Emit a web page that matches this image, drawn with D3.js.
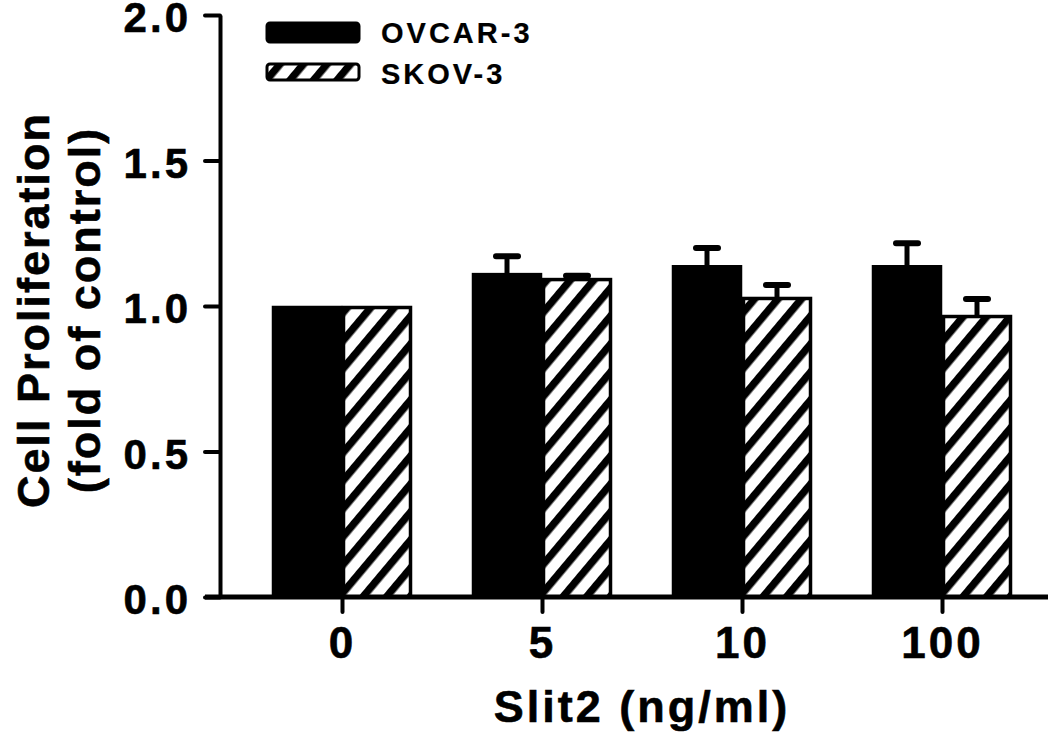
<!DOCTYPE html>
<html>
<head>
<meta charset="utf-8">
<script src="https://cdn.jsdelivr.net/npm/d3@7"></script>
<style>
  body { margin: 0; background: #fff; }
  text { font-family: "Liberation Sans", Arial, sans-serif; font-weight: bold; fill: #000; stroke: #000; stroke-width: 0.6px; }
</style>
</head>
<body>
<script>
const doses = ["0", "5", "10", "100"];
const seriesNames = ["OVCAR-3", "SKOV-3"];
const ovcar = [1.0, 1.113, 1.14, 1.14];
const ovcarErr = [0, 0.058, 0.059, 0.076];
const skov = [1.0, 1.096, 1.031, 0.969];
const skovErr = [0, 0.008, 0.041, 0.055];
const yTicks = [0, 0.5, 1.0, 1.5, 2.0];

const width = 1050;
const height = 734;

const svg = d3.select("body").append("svg")
  .attr("width", width)
  .attr("height", height);

const defs = svg.append("defs");
const pat = defs.append("pattern")
  .attr("id", "hatch")
  .attr("patternUnits", "userSpaceOnUse")
  .attr("width", 18)
  .attr("height", 18)
  .attr("patternTransform", "rotate(40)");
pat.append("rect").attr("width", 18).attr("height", 18).attr("fill", "#fff");
pat.append("rect").attr("x", 0).attr("width", 7.5).attr("height", 18).attr("fill", "#000");

const x = d3.scalePoint().domain(doses).range([342, 942]);
const xSub = d3.scaleBand().domain(seriesNames).range([-70, 70]);
const y = d3.scaleLinear().domain([0, 2]).range([597, 15]);

// y axis
const yAxis = svg.append("g")
  .attr("transform", "translate(220,0)")
  .call(d3.axisLeft(y).tickValues(yTicks).tickSize(15).tickPadding(14)
    .tickFormat(d3.format(".1f")).tickSizeOuter(0));
yAxis.select(".domain").attr("stroke-width", 4);
yAxis.selectAll(".tick line").attr("stroke-width", 4).attr("stroke-linecap", "round");
yAxis.selectAll(".tick text")
  .style("font-size", "42px")
  .style("letter-spacing", "3px")
  .attr("dy", "0.4em");

// bars
const data = doses.map((d, i) => ({
  dose: d,
  vals: [
    { s: seriesNames[0], v: ovcar[i], e: ovcarErr[i] },
    { s: seriesNames[1], v: skov[i], e: skovErr[i] }
  ]
}));

const groups = svg.append("g").selectAll("g")
  .data(data).join("g")
  .attr("transform", d => `translate(${x(d.dose)},0)`);

// error bars (drawn first so bar covers the stem start)
groups.selectAll(".err")
  .data(d => d.vals.filter(v => v.e > 0)).join("g")
  .attr("class", "err")
  .each(function (d) {
    const g = d3.select(this);
    const cx = xSub(d.s) + xSub.bandwidth() / 2;
    g.append("line")
      .attr("x1", cx).attr("x2", cx)
      .attr("y1", y(d.v)).attr("y2", y(d.v + d.e))
      .attr("stroke", "#000").attr("stroke-width", 5);
    g.append("line")
      .attr("x1", cx - 11).attr("x2", cx + 11)
      .attr("y1", y(d.v + d.e)).attr("y2", y(d.v + d.e))
      .attr("stroke", "#000").attr("stroke-width", 6).attr("stroke-linecap", "round");
  });

groups.selectAll("rect")
  .data(d => d.vals).join("rect")
  .attr("x", d => xSub(d.s) + 1.5)
  .attr("width", xSub.bandwidth() - 3)
  .attr("y", d => y(d.v) + 1.5)
  .attr("height", d => y(0) - y(d.v) - 1.5)
  .attr("fill", d => d.s === seriesNames[0] ? "#000" : "url(#hatch)")
  .attr("stroke", "#000")
  .attr("stroke-width", 3.5);

// x axis
const xAxis = svg.append("g")
  .attr("transform", "translate(0,597)")
  .call(d3.axisBottom(x).tickSize(15).tickPadding(14).tickSizeOuter(0));
xAxis.select(".domain").attr("d", "M205,0H1048").attr("stroke-width", 5);
xAxis.selectAll(".tick line").attr("stroke-width", 4).attr("stroke-linecap", "round");
xAxis.selectAll(".tick text")
  .style("font-size", "44px")
  .style("letter-spacing", "3px")
  .attr("dy", "0.72em");

// axis titles
svg.append("text")
  .attr("x", 642).attr("y", 722)
  .attr("text-anchor", "middle")
  .style("font-size", "45px")
  .style("letter-spacing", "3px")
  .text("Slit2 (ng/ml)");

svg.append("text")
  .attr("transform", "translate(49,310) rotate(-90)")
  .attr("text-anchor", "middle")
  .style("font-size", "45px")
  .style("letter-spacing", "2px")
  .text("Cell Proliferation");

svg.append("text")
  .attr("transform", "translate(100,310) rotate(-90)")
  .attr("text-anchor", "middle")
  .style("font-size", "45px")
  .style("letter-spacing", "2px")
  .text("(fold of control)");

// legend
const legend = svg.append("g");
const legendY = [23, 64];
seriesNames.forEach((s, i) => {
  legend.append("rect")
    .attr("x", 267).attr("y", legendY[i])
    .attr("width", 92).attr("height", i === 0 ? 19 : 16)
    .attr("rx", 3)
    .attr("fill", i === 0 ? "#000" : "url(#hatch)")
    .attr("stroke", "#000").attr("stroke-width", 3);
  legend.append("text")
    .attr("x", 381).attr("y", legendY[i] + 20)
    .style("font-size", "29px")
    .style("letter-spacing", "3px")
    .style("stroke-width", "0.2px")
    .text(s);
});
</script>
</body>
</html>
